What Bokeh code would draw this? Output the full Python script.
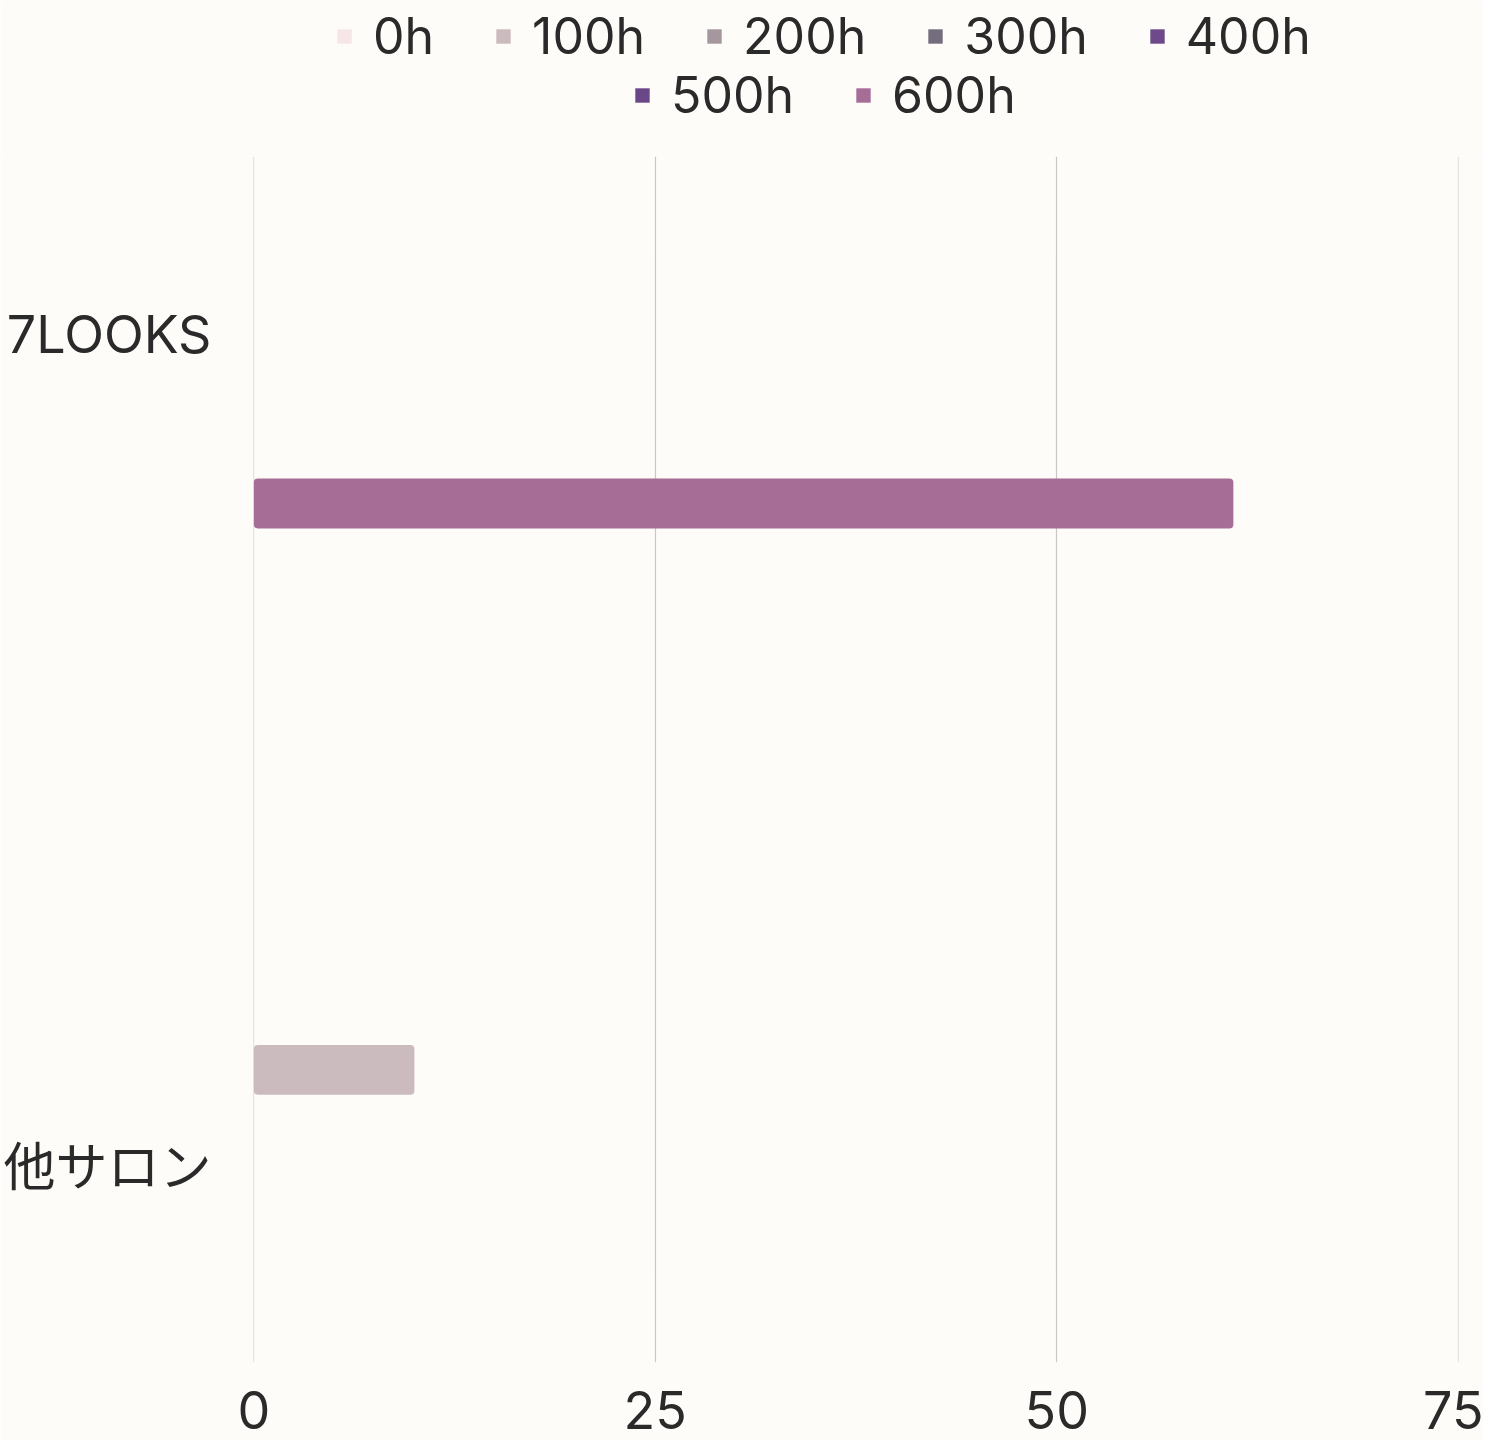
from bokeh.plotting import figure
from bokeh.models import ColumnDataSource, Range1d, FixedTicker, Legend, LegendItem
from bokeh.layouts import column
from bokeh.transform import dodge
from bokeh.embed import file_html
from bokeh.resources import INLINE

# ---- data ----
categories = ["7LOOKS", "他サロン"]
series = ["0h", "100h", "200h", "300h", "400h", "500h", "600h"]
v_0h = [0, 0]
v_100h = [0, 10]
v_200h = [0, 0]
v_300h = [0, 0]
v_400h = [0, 0]
v_500h = [0, 0]
v_600h = [61, 0]
colors = ["#F6E6E8", "#CBBBBE", "#A4979E", "#746D7E", "#6E4A8A", "#6A4888", "#A66D97"]
x_ticks = [0, 25, 50, 75]

values = [v_0h, v_100h, v_200h, v_300h, v_400h, v_500h, v_600h]

FONT = "Inter, 'Noto Sans CJK JP', sans-serif"
TEXT = "#2A2A2A"
BG = "#FEFCF8"
W = 1483

data = {"pos": list(range(len(categories)))}
for s, v in zip(series, values):
    data[s] = v
source = ColumnDataSource(data)

# ---- main chart ----
shift = 0.0108  # bars sit slightly below the category label
p = figure(width=W, height=1284, output_backend="svg", toolbar_location=None,
           x_range=Range1d(-0.02, 75.02), y_range=Range1d(1.2233 + shift, -0.2245 + shift),
           background_fill_color=BG, border_fill_color=BG, outline_line_color=None,
           min_border_left=244, min_border_right=25, min_border_top=0, min_border_bottom=78)

slot = 0.064
for i, (s, c) in enumerate(zip(series, colors)):
    p.hbar(y=dodge("pos", (i - 3) * slot + shift, range=p.y_range), right=s, left=0,
           height=0.06, source=source, fill_color=c, line_color=None,
           border_radius=4)

p.xaxis.ticker = FixedTicker(ticks=x_ticks)
p.yaxis.ticker = FixedTicker(ticks=list(range(len(categories))))
p.yaxis.major_label_overrides = {i: c for i, c in enumerate(categories)}
for ax in (p.xaxis[0], p.yaxis[0]):
    ax.axis_line_color = None
    ax.major_tick_line_color = None
    ax.minor_tick_line_color = None
    ax.major_tick_out = 0
    ax.major_tick_in = 0
    ax.major_label_text_font = FONT
    ax.major_label_text_font_size = "52px"
    ax.major_label_text_color = TEXT
p.yaxis.major_label_standoff = 42
p.xaxis.major_label_standoff = 28

p.ygrid.grid_line_color = None
p.xgrid.grid_line_color = "#CBC7C4"
p.xgrid.grid_line_width = 1.2

# ---- legend strip ----
lp = figure(width=W, height=156, output_backend="svg", toolbar_location=None,
            x_range=Range1d(0, 1), y_range=Range1d(0, 1),
            background_fill_color=BG, border_fill_color=BG, outline_line_color=None,
            min_border=0)
lp.axis.visible = False
lp.grid.visible = False
leg_renderers = []
for i, (s, c) in enumerate(zip(series, colors)):
    r = lp.hbar(y="pos", right=s, left=0, height=0.06, source=source,
                fill_color=c, line_color=None, visible=False)
    leg_renderers.append(r)

def make_legend(idx, loc):
    items = [LegendItem(label=series[i], renderers=[leg_renderers[i]]) for i in idx]
    return Legend(items=items, orientation="horizontal", location=loc,
                  label_text_font=FONT, label_text_font_size="50px", label_text_color=TEXT,
                  glyph_width=18, glyph_height=18, label_standoff=20, spacing=60,
                  padding=0, margin=0, border_line_color=None, background_fill_alpha=0,
                  label_height=62)

lp.add_layout(make_legend([0, 1, 2, 3, 4], (82, 89)), "center")
lp.add_layout(make_legend([5, 6], (380, 30)), "center")

layout = column(lp, p, spacing=0)
open("out.html", "w").write(file_html(layout, INLINE))
